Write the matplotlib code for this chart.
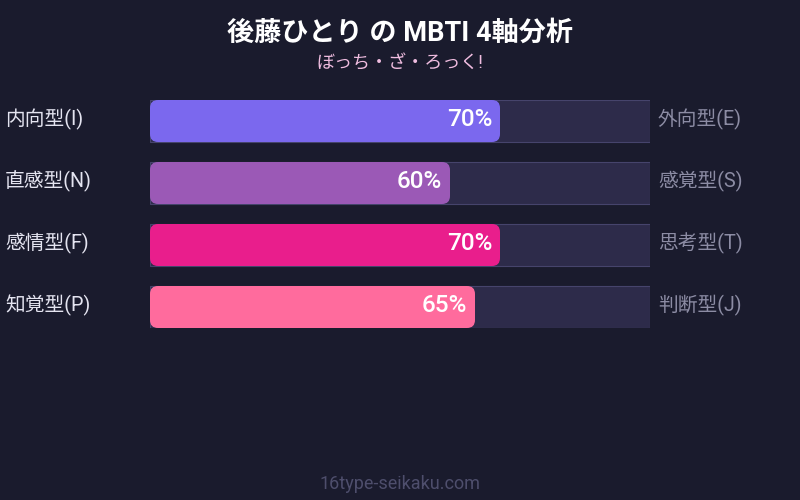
import matplotlib
matplotlib.use('Agg')
import matplotlib.pyplot as plt
from matplotlib.patches import Rectangle, FancyBboxPatch

plt.rcParams['font.family'] = ['Roboto', 'Noto Sans CJK JP', 'DejaVu Sans']

# data
title = '後藤ひとり の MBTI 4軸分析'
subtitle = 'ぼっち・ざ・ろっく!'
left_labels = ['内向型(I)', '直感型(N)', '感情型(F)', '知覚型(P)']
right_labels = ['外向型(E)', '感覚型(S)', '思考型(T)', '判断型(J)']
values = [70, 60, 70, 65]
colors = ['#7b68ee', '#9b59b6', '#e91e8c', '#ff6b9d']
footer = '16type-seikaku.com'

bg = '#1a1b2d'
W, H = 800, 500
fig = plt.figure(figsize=(8, 5), dpi=100, facecolor=bg)

# background axes in pixel coords for text
bgax = fig.add_axes([0, 0, 1, 1])
bgax.set_xlim(0, W)
bgax.set_ylim(H, 0)
bgax.axis('off')
bgax.set_facecolor(bg)

# bar axes: x 150..650 px, y 100..328 px
row_step = 62
bar_h = 42
top, bottom = 100, 100 + 3 * row_step + bar_h
ax = fig.add_axes([150 / W, 1 - bottom / H, 500 / W, (bottom - top) / H])
ax.set_xlim(0, 100)
half = bar_h / row_step / 2
ax.set_ylim(len(values) - 1 + half, -half)
ax.axis('off')
ax.patch.set_alpha(0)

hh = bar_h / row_step
aspect = (500 / 100) / row_step
for i, (v, c) in enumerate(zip(values, colors)):
    ax.add_patch(Rectangle((0, i - hh / 2), 100, hh, facecolor='#2d2b4a',
                           edgecolor='#46446c', linewidth=0.8))
    ax.add_patch(FancyBboxPatch((0, i - hh / 2), v, hh,
                                boxstyle='round,pad=0,rounding_size=1.6',
                                mutation_aspect=aspect,
                                facecolor=c, edgecolor='none'))
    ax.text(v - 1.6, i - 0.03, f'{v}%', ha='right', va='center', color='white',
            fontsize=17.5, fontweight='medium')
    y = top + i * row_step + bar_h / 2 - 2
    bgax.text(5, y, left_labels[i], ha='left', va='center', color='#e4e4f0', fontsize=14.2)
    bgax.text(658, y, right_labels[i], ha='left', va='center', color='#8c8ca4', fontsize=14.2)

bgax.text(W / 2, 33, title, ha='center', va='center', color='white',
          fontsize=19.5, fontweight='bold')
bgax.text(W / 2, 63, subtitle, ha='center', va='center', color='#f0bde0', fontsize=13)
bgax.text(W / 2, 484, footer, ha='center', va='center', color='#4e4e6c', fontsize=13)

fig.savefig('out.png', dpi=100, facecolor=bg)
